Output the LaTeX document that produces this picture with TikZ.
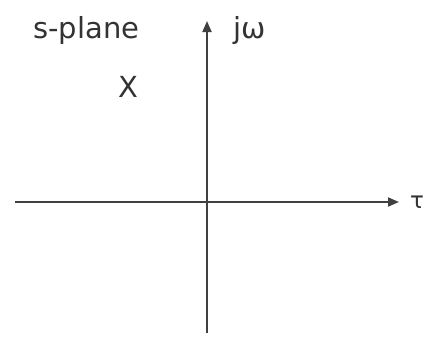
\documentclass[tikz,border=0pt]{standalone}
\usepackage{fontspec}
\setmainfont{DejaVu Sans}
\usetikzlibrary{positioning,arrows.meta}

\begin{document}
\begin{tikzpicture}[x=1pt, y=-1pt]
    \tikzstyle{label} = [inner sep=0pt, anchor=base west, text=black!80, font=\fontsize{29}{34}\selectfont]
    \tikzstyle{axis} = [line width=1.8pt, draw=black!75, -{Triangle[length=11pt,width=9pt]}]

    \useasboundingbox (0,0) rectangle (427,340);

    \coordinate (west) at (15,202);
    \coordinate (east) at (399,202);
    \coordinate (south) at (207,333);
    \coordinate (north) at (207,21);

    \node (splane) [label] at (33,38) {s-plane};
    \node (jw) [label] at (233,38) {jω};
    \node (pole) [label] at (118,97) {X};
    \node (tau) [label, font=\fontsize{23}{28}\selectfont] at (410,208) {τ};

    \draw [axis] (west) -- (east);
    \draw [axis] (south) -- (north);
\end{tikzpicture}
\end{document}
